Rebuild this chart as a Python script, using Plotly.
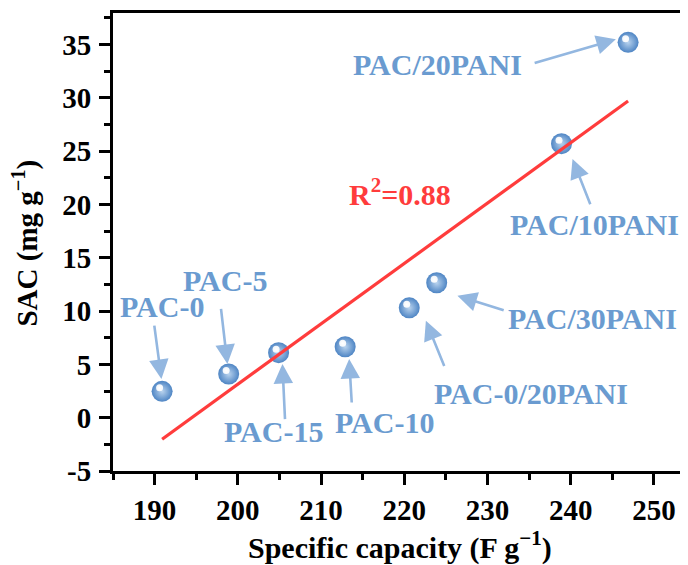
import numpy as np
import plotly.graph_objects as go

# ---- data ----
samples = ["PAC-0", "PAC-5", "PAC-15", "PAC-10", "PAC-0/20PANI",
           "PAC/30PANI", "PAC/10PANI", "PAC/20PANI"]
capacity = [190.9, 198.9, 204.9, 212.9, 220.6, 223.9, 238.9, 246.9]
sac = [2.47, 4.1, 6.1, 6.65, 10.3, 12.65, 25.7, 35.2]
r2_text = "R<sup>2</sup>=0.88"
x_ticks = [190, 200, 210, 220, 230, 240, 250]
y_ticks = [-5, 0, 5, 10, 15, 20, 25, 30, 35]
x_title = "Specific capacity (F g<sup>\u22121</sup>)"
y_title = "SAC (mg g<sup>\u22121</sup>)"

# ---- annotation placement (data coords) ----
label_pos = {
    "PAC-0": (190.9, 10.4),
    "PAC-5": (198.4, 12.84),
    "PAC-15": (204.24, -1.31),
    "PAC-10": (217.62, -0.44),
    "PAC-0/20PANI": (235.22, 2.25),
    "PAC/30PANI": (242.67, 9.28),
    "PAC/10PANI": (242.83, 18.09),
    "PAC/20PANI": (224.04, 33.11),
}
arrow_pos = {  # (tail_x, tail_y, head_x, head_y)
    "PAC-0": (189.94, 8.78, 190.82, 3.63),
    "PAC-5": (197.96, 10.34, 198.75, 5.03),
    "PAC-15": (205.68, -0.28, 205.36, 5.03),
    "PAC-10": (213.70, 1.28, 213.38, 5.50),
    "PAC-0/20PANI": (224.88, 4.71, 222.60, 9.09),
    "PAC/30PANI": (232.13, 10.03, 226.39, 11.43),
    "PAC/10PANI": (242.43, 19.87, 240.22, 24.25),
    "PAC/20PANI": (235.49, 33.21, 245.43, 35.49),
}
r2_pos = (219.47, 21.15)

FONT = "Liberation Serif, Times New Roman, serif"
LABEL_BLUE = "#6A9BD0"
ARROW_BLUE = "#93B7E0"
RED = "#FF3C3C"

fig = go.Figure()

# spheres
fig.add_trace(go.Scatter(
    x=capacity, y=sac, mode="markers",
    marker=dict(size=21, color="#4E85C4",
                gradient=dict(type="radial", color="#B9D3EE"),
                line=dict(width=0)),
    showlegend=False, hoverinfo="skip"))
# specular highlight (a few pixels up-left of each sphere)
dx = -2.5 / 8.32
dy = 3.5 / 10.67
fig.add_trace(go.Scatter(
    x=[c + dx for c in capacity], y=[s + dy for s in sac], mode="markers",
    marker=dict(size=7, color="rgba(255,255,255,0.9)",
                gradient=dict(type="radial", color="#FFFFFF"),
                line=dict(width=0)),
    showlegend=False, hoverinfo="skip"))

# linear fit
slope, intercept = np.polyfit(capacity, sac, 1)
fx = np.array([min(capacity), max(capacity)])
fig.add_trace(go.Scatter(
    x=fx, y=slope * fx + intercept, mode="lines",
    line=dict(color=RED, width=3.2),
    showlegend=False, hoverinfo="skip"))

annotations = []
for name in samples:
    lx, ly = label_pos[name]
    annotations.append(dict(
        x=lx, y=ly, xref="x", yref="y", text=name, showarrow=False,
        xanchor="center", yanchor="middle",
        font=dict(family=FONT, size=30, color=LABEL_BLUE, weight="bold")))
    tx, ty, hx, hy = arrow_pos[name]
    annotations.append(dict(
        x=hx, y=hy, xref="x", yref="y", ax=tx, ay=ty, axref="x", ayref="y",
        text="", showarrow=True, arrowhead=2, arrowsize=1.5, arrowwidth=2.6,
        arrowcolor=ARROW_BLUE, standoff=0, startstandoff=0))
annotations.append(dict(
    x=r2_pos[0], y=r2_pos[1], xref="x", yref="y", text=r2_text,
    showarrow=False, xanchor="center", yanchor="middle",
    font=dict(family=FONT, size=30, color=RED, weight="bold")))

# axis titles
annotations.append(dict(
    x=0.499, y=-0.162, xref="paper", yref="paper", text=x_title,
    showarrow=False, xanchor="center", yanchor="middle",
    font=dict(family=FONT, size=30, color="black", weight="bold")))
annotations.append(dict(
    x=-0.152, y=0.498, xref="paper", yref="paper", text=y_title,
    showarrow=False, xanchor="center", yanchor="middle", textangle=-90,
    font=dict(family=FONT, size=29, color="black", weight="bold")))

axis_font = dict(family=FONT, size=29, color="black", weight="bold")

# page body has an 8px margin: figure is sized/placed to compensate
fig.update_layout(
    width=680, height=557,
    margin=dict(l=105, r=0, t=5, b=94),
    paper_bgcolor="white", plot_bgcolor="white",
    annotations=annotations,
    xaxis=dict(
        range=[185, 254.1], tickvals=x_ticks, ticktext=[str(v) for v in x_ticks],
        showgrid=False, zeroline=False, automargin=False,
        showline=True, linecolor="black", linewidth=3, mirror=True,
        ticks="outside", ticklen=11, tickwidth=3, tickcolor="black",
        minor=dict(dtick=5, tick0=185, ticks="outside", ticklen=6,
                   tickwidth=3, tickcolor="black", showgrid=False),
        tickfont=axis_font, ticklabelstandoff=0,
    ),
    yaxis=dict(
        range=[-5, 37.95], tickvals=y_ticks, ticktext=[str(v) for v in y_ticks],
        showgrid=False, zeroline=False, automargin=False,
        showline=True, linecolor="black", linewidth=3, mirror=False,
        ticks="outside", ticklen=11, tickwidth=3, tickcolor="black",
        minor=dict(dtick=2.5, tick0=-5, ticks="outside", ticklen=6,
                   tickwidth=3, tickcolor="black", showgrid=False),
        tickfont=axis_font, ticklabelstandoff=2,
    ),
)

fig.write_html("out.html")
